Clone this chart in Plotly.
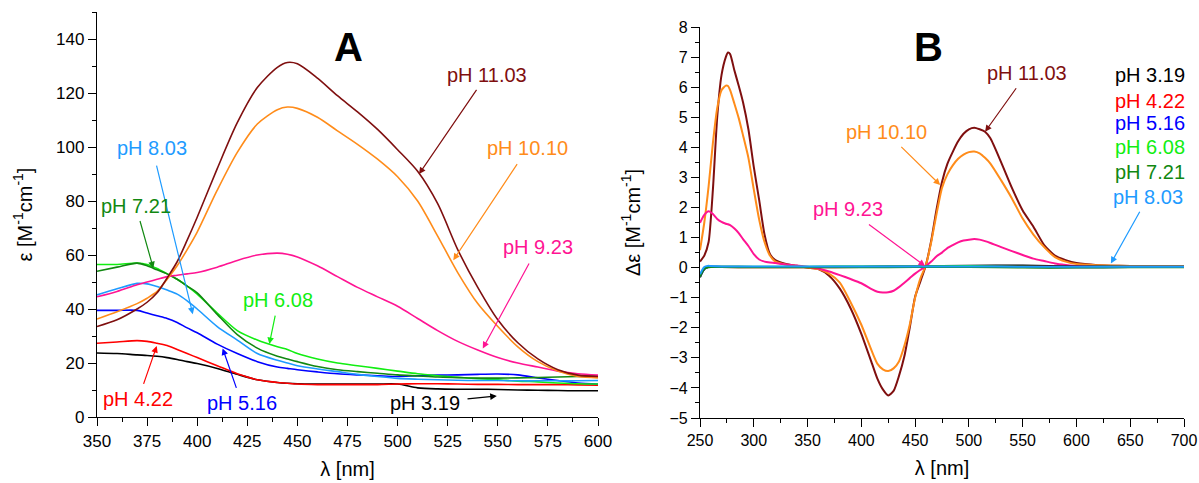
import plotly.graph_objects as go

W, H = 1199, 483
FONT = "Liberation Sans, Arial, sans-serif"

# ---------------- Panel A: absorption spectra (epsilon vs wavelength) ----------------
lam_a = [350, 360, 370, 375, 380, 385, 390, 395, 400, 410, 420, 430, 440, 445, 450,
         460, 470, 480, 490, 500, 510, 520, 530, 540, 550, 560, 570, 580, 590, 600]

eps_319 = [23.7, 23.5, 23.0, 22.8, 22.5, 22.0, 21.3, 20.5, 19.8, 18.0, 15.8, 13.8, 12.8, 12.5, 12.3,
           12.2, 12.2, 12.2, 12.2, 12.2, 10.8, 10.4, 10.3, 10.3, 10.2, 10.0, 9.9, 9.8, 9.7, 9.7]
eps_422 = [27.3, 27.8, 28.3, 28.0, 27.3, 26.5, 25.0, 23.5, 22.0, 19.0, 16.0, 13.8, 12.8, 12.5, 12.2,
           12.0, 12.0, 12.0, 12.0, 12.2, 12.3, 12.3, 12.2, 12.1, 12.1, 12.0, 12.0, 12.0, 11.9, 11.8]
eps_516 = [39.5, 39.5, 39.5, 38.5, 37.5, 36.5, 35.0, 33.0, 31.2, 27.0, 23.5, 20.5, 18.5, 18.0, 17.5,
           16.7, 16.0, 15.6, 15.3, 15.0, 15.3, 15.5, 15.6, 15.8, 15.9, 15.6, 14.5, 13.5, 12.6, 12.2]
eps_608 = [56.5, 56.5, 57.0, 56.5, 55.0, 53.0, 51.0, 48.5, 45.5, 38.5, 32.0, 28.5, 26.0, 25.0, 23.5,
           21.5, 20.0, 19.0, 18.0, 17.0, 16.0, 15.3, 14.7, 14.2, 13.8, 13.3, 13.0, 12.6, 12.3, 12.2]
eps_721 = [54.0, 55.5, 57.0, 56.0, 54.5, 53.0, 51.0, 48.5, 46.0, 38.0, 30.5, 25.5, 22.5, 21.5, 20.5,
           18.7, 17.5, 16.8, 16.2, 15.6, 15.2, 14.8, 14.6, 14.4, 14.4, 14.5, 14.6, 14.8, 15.0, 15.2]
eps_803 = [45.2, 47.5, 49.5, 49.3, 48.3, 47.0, 45.5, 43.0, 40.0, 33.5, 28.5, 23.5, 21.0, 20.0, 19.0,
           17.8, 16.8, 15.8, 15.0, 14.3, 14.0, 13.8, 13.6, 13.5, 13.5, 13.4, 13.4, 13.4, 13.4, 13.5]
eps_923 = [44.5, 46.5, 49.0, 50.0, 51.0, 52.0, 52.5, 53.0, 53.5, 55.5, 58.0, 60.0, 60.7, 60.3, 59.3,
           56.0, 52.0, 48.0, 44.5, 41.0, 36.5, 32.0, 28.0, 24.8, 22.0, 20.0, 18.5, 17.0, 16.0, 15.5]
eps_1010 = [36.3, 39.0, 42.0, 44.0, 46.5, 51.0, 56.0, 62.0, 68.5, 84.0, 98.0, 108.5, 113.8, 114.8, 114.3,
            111.0, 106.0, 101.0, 95.5, 89.0, 80.0, 67.0, 53.5, 42.0, 33.5, 26.0, 20.5, 17.0, 15.0, 14.5]
eps_1103 = [33.5, 36.0, 40.0, 42.5, 46.0, 51.5, 57.5, 65.5, 74.0, 92.0, 109.0, 122.0, 129.5, 131.3, 130.8,
            125.5, 119.0, 113.0, 106.5, 99.0, 91.0, 79.0, 62.0, 48.0, 36.0, 27.5, 21.5, 17.5, 15.5, 15.0]

# ---------------- Panel B: CD spectra (delta epsilon vs wavelength) ----------------
lam_b = [250, 254, 258, 262, 266, 270, 274, 276, 278, 282, 286, 290, 295, 300, 305, 310, 315, 320,
         330, 340, 350, 360, 370, 380, 390, 400, 410, 415, 420, 425, 430, 435, 440, 445, 450,
         455, 460, 465, 470, 475, 480, 485, 490, 495, 500, 505, 510, 515, 520, 530, 540, 550,
         560, 570, 580, 590, 600, 620, 640, 660, 680, 700]

de_1103 = [0.2, 0.4, 0.85, 2.6, 5.0, 6.4, 7.0, 7.15, 7.1, 6.55, 6.05, 5.5, 4.6, 3.35, 2.25, 1.1, 0.45, 0.25,
           0.12, 0.06, 0.0, -0.05, -0.27, -0.7, -1.35, -2.2, -3.2, -3.7, -4.05, -4.25, -4.1, -3.6, -2.95, -2.0, -0.97,
           -0.45, 0.08, 0.9, 1.95, 2.85, 3.45, 3.85, 4.2, 4.45, 4.6, 4.65, 4.6, 4.52, 4.3, 3.5, 2.65, 1.9,
           1.36, 0.75, 0.4, 0.25, 0.15, 0.08, 0.06, 0.05, 0.05, 0.05]
de_1010 = [0.58, 1.5, 2.7, 4.15, 5.3, 5.9, 6.05, 6.04, 5.9, 5.45, 4.97, 4.4, 3.65, 2.6, 1.6, 0.85, 0.4, 0.2,
           0.1, 0.05, 0.0, -0.05, -0.2, -0.5, -1.15, -1.9, -2.8, -3.2, -3.38, -3.44, -3.35, -3.12, -2.6, -1.9, -1.0,
           -0.35, 0.08, 0.85, 1.8, 2.65, 3.1, 3.4, 3.62, 3.76, 3.84, 3.86, 3.8, 3.65, 3.46, 2.9, 2.3, 1.63,
           1.1, 0.68, 0.35, 0.2, 0.12, 0.08, 0.06, 0.05, 0.05, 0.05]
de_923 = [1.49, 1.75, 1.87, 1.78, 1.62, 1.52, 1.46, 1.44, 1.41, 1.3, 1.15, 0.95, 0.72, 0.45, 0.27, 0.2, 0.17, 0.15,
          0.1, 0.07, 0.03, -0.03, -0.13, -0.25, -0.38, -0.52, -0.72, -0.8, -0.83, -0.82, -0.77, -0.65, -0.5, -0.35, -0.2,
          -0.07, 0.05, 0.2, 0.38, 0.5, 0.65, 0.75, 0.84, 0.9, 0.93, 0.95, 0.93, 0.88, 0.82, 0.68, 0.55, 0.42,
          0.3, 0.22, 0.14, 0.09, 0.05, 0.04, 0.04, 0.04, 0.04, 0.04]

lam_flat = [250, 252, 254, 256, 258, 260, 270, 300, 350, 400, 450, 500, 550, 600, 650, 700]
de_319 = [-0.32, -0.16, -0.05, 0.0, 0.02, 0.03, 0.03, 0.02, 0.02, 0.03, 0.04, 0.06, 0.07, 0.04, 0.03, 0.03]
de_422 = [-0.28, -0.14, -0.04, 0.01, 0.02, 0.02, 0.02, 0.01, 0.01, 0.02, 0.03, 0.04, 0.03, 0.02, 0.02, 0.02]
de_516 = [-0.30, -0.15, -0.05, 0.0, 0.02, 0.03, 0.02, 0.02, 0.02, 0.02, 0.03, 0.03, 0.02, 0.01, 0.02, 0.02]
de_608 = [-0.26, -0.12, -0.03, 0.01, 0.02, 0.03, 0.03, 0.03, 0.03, 0.04, 0.04, 0.05, 0.03, 0.02, 0.03, 0.03]
de_721 = [-0.30, -0.15, -0.04, 0.0, 0.01, 0.02, 0.02, 0.01, 0.01, 0.01, 0.02, 0.02, 0.0, 0.0, 0.01, 0.01]
de_803 = [-0.22, -0.08, 0.02, 0.05, 0.06, 0.05, 0.04, 0.04, 0.04, 0.04, 0.04, 0.04, 0.03, 0.03, 0.03, 0.03]

labels = ["pH 3.19", "pH 4.22", "pH 5.16", "pH 6.08", "pH 7.21", "pH 8.03",
          "pH 9.23", "pH 10.10", "pH 11.03"]
colors = ["#000000", "#FF0000", "#0000FF", "#11EE11", "#118811", "#1E9BFF",
          "#FF1493", "#FF8C1A", "#7F0F0F"]
col = dict(zip(labels, colors))

fig = go.Figure()

# Panel A traces
eps_series = [eps_319, eps_422, eps_516, eps_608, eps_721, eps_803, eps_923, eps_1010, eps_1103]
for name, ys in zip(labels, eps_series):
    fig.add_trace(go.Scatter(x=lam_a, y=ys, mode="lines", name=name, showlegend=False,
                             line=dict(color=col[name], width=1.6, shape="spline", smoothing=0.8),
                             xaxis="x", yaxis="y"))

# Panel B traces: strong CD signals first, near-zero ones on top
for name, ys in [("pH 11.03", de_1103), ("pH 10.10", de_1010), ("pH 9.23", de_923)]:
    fig.add_trace(go.Scatter(x=lam_b, y=ys, mode="lines", name=name, showlegend=False,
                             line=dict(color=col[name], width=2, shape="spline", smoothing=0.6),
                             xaxis="x2", yaxis="y2"))
for name, ys in zip(labels[:6], [de_319, de_422, de_516, de_608, de_721, de_803]):
    fig.add_trace(go.Scatter(x=lam_flat, y=ys, mode="lines", name=name, showlegend=False,
                             line=dict(color=col[name], width=2, shape="spline", smoothing=0.6),
                             xaxis="x2", yaxis="y2"))


def px(x):
    return x / W


def py(y):
    return 1 - y / H


title_font = dict(family=FONT, size=20, color="black")
axis_common = dict(showline=True, linecolor="black", linewidth=1.3, showgrid=False, zeroline=False,
                   automargin=False, ticks="outside", ticklen=8, tickwidth=1.3, tickcolor="black",
                   tickfont=dict(family=FONT, size=17, color="black"))
tick_b = dict(family=FONT, size=16, color="black")

fig.update_layout(
    width=W, height=H,
    margin=dict(l=0, r=0, t=0, b=0, pad=0),
    paper_bgcolor="white", plot_bgcolor="white",
    font=dict(family=FONT, color="black"),
    xaxis=dict(domain=[px(97), px(598)], range=[350, 600], dtick=25, anchor="y",
               title=dict(text="λ [nm]", font=title_font, standoff=12),
               minor=dict(ticks="outside", ticklen=4, dtick=12.5, tickcolor="black", tickwidth=1.1),
               **axis_common),
    yaxis=dict(domain=[py(417), py(12)], range=[0, 150], dtick=20, anchor="x",
               title=dict(text="ε [M<sup>-1</sup>cm<sup>-1</sup>]", font=title_font, standoff=18),
               minor=dict(ticks="outside", ticklen=4, dtick=10, tickcolor="black", tickwidth=1.1),
               **axis_common),
    xaxis2=dict(domain=[px(700), px(1184)], range=[250, 700], dtick=50, anchor="y2",
                title=dict(text="λ [nm]", font=title_font, standoff=12),
                minor=dict(ticks="outside", ticklen=4, dtick=25, tickcolor="black", tickwidth=1.1),
                **{**axis_common, "tickfont": tick_b}),
    yaxis2=dict(domain=[py(418), py(27)], range=[-5, 8], dtick=1, anchor="x2",
                title=dict(text="Δε [M<sup>-1</sup>cm<sup>-1</sup>]", font=title_font, standoff=23),
                minor=dict(ticks="outside", ticklen=4, dtick=0.5, tickcolor="black", tickwidth=1.1),
                **{**axis_common, "tickfont": tick_b}),
)

ann = []

# panel letters
ann.append(dict(text="<b>A</b>", x=475.3, y=137.1, xref="x", yref="y", showarrow=False,
                font=dict(family=FONT, size=40, color="black")))
ann.append(dict(text="<b>B</b>", x=462.4, y=7.35, xref="x2", yref="y2", showarrow=False,
                font=dict(family=FONT, size=40, color="black")))

lab_font = 20


def label(name, text_pos, tip, ax="x", ay="y", gap=4):
    """Coloured pH label centred at text_pos, with an arrow pointing at tip (data coordinates)."""
    c = col[name]
    ann.append(dict(text=name, x=tip[0], y=tip[1], xref=ax, yref=ay,
                    ax=text_pos[0], ay=text_pos[1], axref=ax, ayref=ay,
                    font=dict(family=FONT, size=lab_font, color=c),
                    showarrow=True, arrowhead=2, arrowsize=1.1, arrowwidth=1.2, arrowcolor=c,
                    standoff=0, startstandoff=gap))


# Panel A labels
label("pH 11.03", (544.5, 126.7), (510.7, 90.0), gap=3)
label("pH 10.10", (564.9, 99.5), (527.8, 58.1), gap=4)
label("pH 9.23", (570.2, 63.1), (542.5, 25.4), gap=5)
label("pH 8.03", (377.6, 99.5), (397.8, 38.1), gap=5)
label("pH 7.21", (369.3, 78.3), (378.1, 55.1), gap=3)
label("pH 6.08", (440.5, 43.3), (436.0, 27.0), gap=3)
label("pH 5.16", (422.2, 5.1), (412.7, 25.4), gap=3)
label("pH 4.22", (370.6, 6.6), (379.8, 26.3), gap=3)
label("pH 3.19", (513.7, 5.1), (549.5, 7.8), gap=6)

# Panel B labels
label("pH 11.03", (553.9, 6.46), (515.1, 4.52), "x2", "y2", gap=3)
label("pH 10.10", (423.3, 4.50), (473.3, 2.75), "x2", "y2", gap=3)
label("pH 9.23", (387.7, 1.95), (459.3, 0.05), "x2", "y2", gap=5)

# Panel B list of the near-zero spectra; the last entry carries the arrow
list_y = [6.40, 5.55, 4.82, 4.00, 3.19]
for name, yv in zip(labels[:5], list_y):
    ann.append(dict(text=name, x=634.2, y=yv, xref="x2", yref="y2", showarrow=False,
                    xanchor="left", font=dict(family=FONT, size=lab_font, color=col[name])))
label("pH 8.03", (666.7, 2.36), (632.0, 0.14), "x2", "y2", gap=3)

fig.update_layout(annotations=ann)

fig.write_html("out.html")
